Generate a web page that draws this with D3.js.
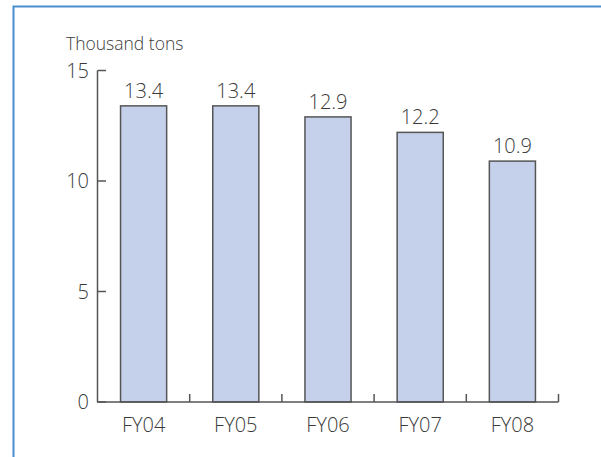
<!DOCTYPE html>
<html>
<head>
<meta charset="utf-8">
<script src="https://cdn.jsdelivr.net/npm/d3@7"></script>
<style>
  body { margin: 0; background: #fff; }
  text { font-family: "Open Sans", "Noto Sans", sans-serif; fill: #3a3a3a; font-weight: 300; }
</style>
</head>
<body>
<svg id="chart" width="601" height="457"></svg>
<script>
let years = ['FY04', 'FY05', 'FY06', 'FY07', 'FY08'];
let tons = [13.4, 13.4, 12.9, 12.2, 10.9];
let yTicks = [0, 5, 10, 15];
let unitLabel = 'Thousand tons';

let svg = d3.select('#chart');
let axisColor = '#555';

// frame lines top and left
svg.append('path')
    .attr('d', d3.line()([[13.5, 457], [13.5, 6.5], [601, 6.5]]))
    .attr('fill', 'none')
    .attr('stroke', '#4a8ed0')
    .attr('stroke-width', 2);

let x = d3.scaleBand().domain(years).range([97.5, 558.5]).paddingInner(0.5).paddingOuter(0.25);
let y = d3.scaleLinear().domain([0, 15]).range([402, 70.5]);

// bars
svg.selectAll('.bar')
    .data(tons)
    .enter().append('rect')
    .attr('class', 'bar')
    .attr('x', (d, i) => x(years[i]))
    .attr('y', d => y(d))
    .attr('width', x.bandwidth())
    .attr('height', d => y(0) - y(d))
    .attr('fill', '#c5d1ea')
    .attr('stroke', '#555')
    .attr('stroke-width', 1.5);

// value labels
svg.selectAll('.val')
    .data(tons)
    .enter().append('text')
    .attr('class', 'val')
    .attr('x', (d, i) => x(years[i]) + x.bandwidth() / 2)
    .attr('y', d => y(d) - 8)
    .attr('text-anchor', 'middle')
    .attr('font-size', 20)
    .text(d => d.toFixed(1));

// y axis
svg.append('line')
    .attr('x1', 97.5).attr('x2', 97.5)
    .attr('y1', y(15)).attr('y2', y(0))
    .attr('stroke', axisColor).attr('stroke-width', 1.5);

for (let t of yTicks){
    svg.append('line')
        .attr('x1', 97.5).attr('x2', 106)
        .attr('y1', y(t)).attr('y2', y(t))
        .attr('stroke', axisColor).attr('stroke-width', 1.5);
    svg.append('text')
        .attr('x', 89)
        .attr('y', y(t) + 7)
        .attr('text-anchor', 'end')
        .attr('font-size', 20)
        .text(t);
}

// x axis
svg.append('line')
    .attr('x1', 97).attr('x2', 558.5)
    .attr('y1', y(0)).attr('y2', y(0))
    .attr('stroke', axisColor).attr('stroke-width', 1.5);

let step = x.step();
for (let i = 1; i <= years.length; i++){
    let tx = 97.5 + step * i;
    svg.append('line')
        .attr('x1', tx).attr('x2', tx)
        .attr('y1', y(0)).attr('y2', y(0) - 8)
        .attr('stroke', axisColor).attr('stroke-width', 1.5);
}

svg.selectAll('.cat')
    .data(years)
    .enter().append('text')
    .attr('class', 'cat')
    .attr('x', d => x(d) + x.bandwidth() / 2)
    .attr('y', 432)
    .attr('text-anchor', 'middle')
    .attr('font-size', 20)
    .text(d => d);

svg.append('text')
    .attr('x', 66)
    .attr('y', 50)
    .attr('font-size', 17.5)
    .text(unitLabel);
</script>
</body>
</html>
